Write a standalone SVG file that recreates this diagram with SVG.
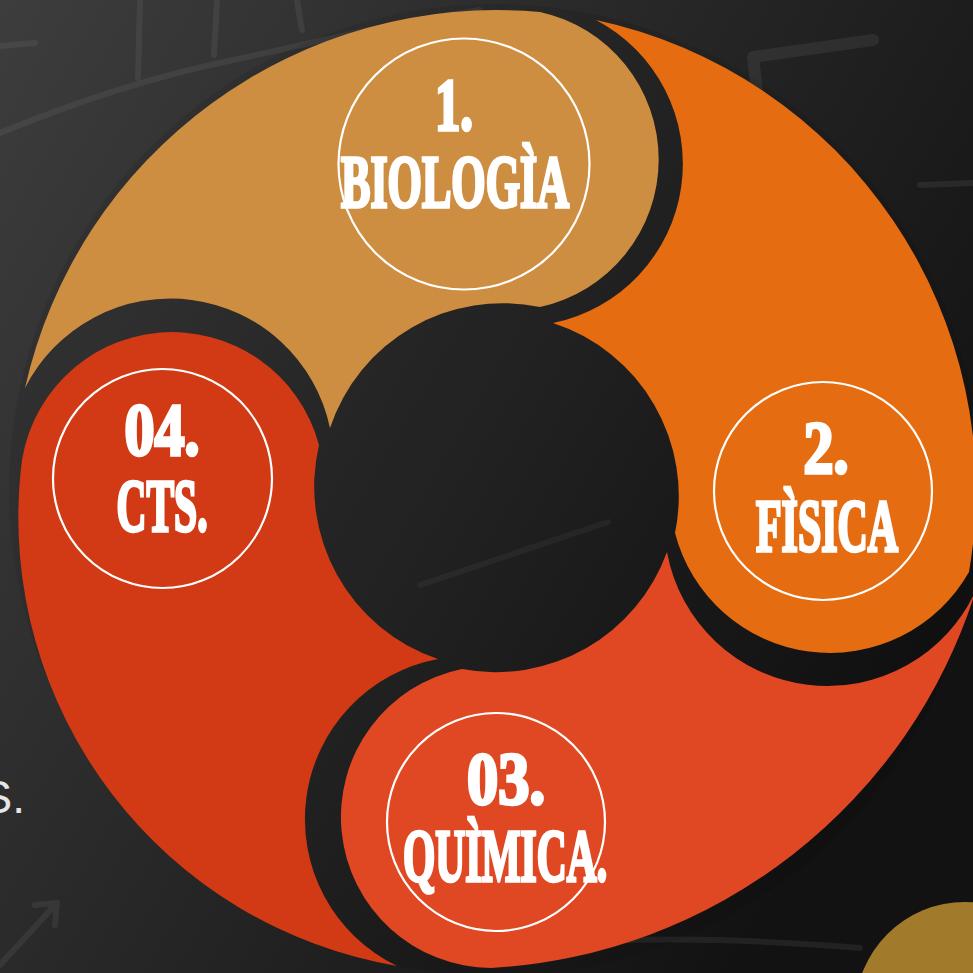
<svg xmlns="http://www.w3.org/2000/svg" width="973" height="973" viewBox="0 0 973 973">
<defs>
<linearGradient id="bg" gradientUnits="userSpaceOnUse" x1="0" y1="0" x2="973" y2="568">
<stop offset="0" stop-color="#3d3d3d"/>
<stop offset="1" stop-color="#121212"/>
</linearGradient>
<style>
.ring{fill:none;stroke:#ffffff;stroke-width:2.2}
.lbl{font-family:"Liberation Serif","Times New Roman",serif;font-weight:bold;font-size:73px;fill:#ffffff;stroke:#ffffff;stroke-width:3.5;stroke-linejoin:miter;text-anchor:middle}
.chalk{fill:none;stroke:#a0a0a0;stroke-opacity:0.11;stroke-width:6;stroke-linecap:round;stroke-linejoin:round}
</style>
</defs>
<rect x="0" y="0" width="973" height="973" fill="url(#bg)"/>
<g id="background-marks">
<path class="chalk" d="M0,133 C80,100 160,75 233,60 S380,25 480,10"/>
<path class="chalk" d="M140,0 L138,78 M217,0 L214,55 M297,0 Q300,20 302,30 M0,46 L35,43"/>
<path class="chalk" d="M753,57 L873,40 M753,57 L758,100" style="stroke-width:12"/>
<path class="chalk" d="M920,185 L973,183"/>
<path class="chalk" d="M420,585 L608,522" style="stroke-opacity:0.08"/>
<path class="chalk" d="M0,965 L55,905 M35,905 L57,903 L55,925"/>
<path class="chalk" d="M560,945 C650,935 760,940 860,948"/>
<text x="25" y="813" font-family="Liberation Sans, Arial, sans-serif" font-size="46" fill="#e6e6e6" text-anchor="end">S.</text>
</g>
<circle cx="495" cy="490" r="486" fill="#000000" opacity="0.08"/>
<circle id="gold-circle" cx="965" cy="1012" r="110" fill="#a27a2b"/>
<g id="connectors"></g>
<g id="node-biologia">
<path fill="#cd8e42" d="M25,388 A484,484 0 0 1 540,12 A151,151 0 0 1 540,307 A182,182 0 0 0 330,428 A163,163 0 0 0 25,388 Z"/>
<circle class="ring" cx="464" cy="164" r="125.5"/>
<text class="lbl" x="454" y="130" textLength="38" lengthAdjust="spacingAndGlyphs">1.</text>
<text class="lbl" x="455" y="207" textLength="228" lengthAdjust="spacingAndGlyphs">BIOLOGÌA</text>
</g>
<g id="node-fisica">
<path fill="#e66c11" d="M596,20 A481,481 0 0 1 969,572 A160,160 0 0 1 675,533 A182,182 0 0 0 553,323 A162.5,162.5 0 0 0 596,20 Z"/>
<circle class="ring" cx="823" cy="491" r="109"/>
<text class="lbl" x="826" y="473" textLength="45" lengthAdjust="spacingAndGlyphs">2.</text>
<text class="lbl" x="827" y="551" textLength="142" lengthAdjust="spacingAndGlyphs">FÌSICA</text>
</g>
<g id="node-quimica">
<path fill="#e04823" d="M976,590 A540,540 0 0 1 491,968 A151,151 0 0 1 462,669 A182,182 0 0 0 667,552 A163,163 0 0 0 976,590 Z"/>
<circle class="ring" cx="496" cy="822" r="109"/>
<text class="lbl" x="506" y="804" textLength="78" lengthAdjust="spacingAndGlyphs">03.</text>
<text class="lbl" x="505" y="881" textLength="204" lengthAdjust="spacingAndGlyphs">QUÌMICA.</text>
</g>
<g id="node-cts">
<path fill="#d23a15" d="M397,966 A455,455 0 0 1 20.6,472 A152,152 0 0 1 319,445 A182,182 0 0 0 438,659 A163,163 0 0 0 397,966 Z"/>
<circle class="ring" cx="162.5" cy="478.5" r="109.5"/>
<text class="lbl" x="162" y="455" textLength="75" lengthAdjust="spacingAndGlyphs">04.</text>
<text class="lbl" x="162" y="531" textLength="91" lengthAdjust="spacingAndGlyphs">CTS.</text>
</g>
</svg>
